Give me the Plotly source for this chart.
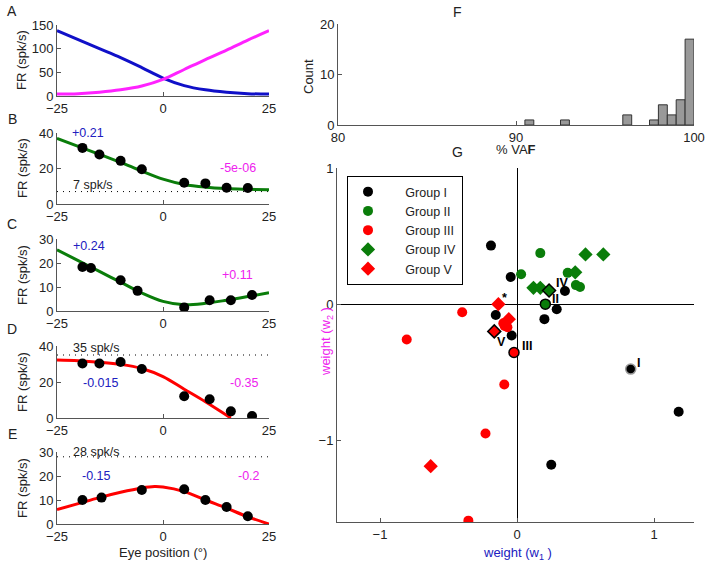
import plotly.graph_objects as go

# ---- panel A: basis tuning curves
a_x = [-25, -20, -15, -10, -5, 0, 5, 10, 15, 20, 25]
a_blue = [138, 119, 100, 81, 60, 38, 22, 13, 8, 5, 4]
a_mag = [4, 5, 8, 13, 21, 35, 56, 77, 97, 118, 138]

# ---- panels B-E: data points and fits
b_px = [-19, -15, -10, -5, 5, 10, 15, 20]
b_py = [31.6, 27.9, 24.3, 19.6, 12.0, 11.6, 9.2, 9.0]
b_fx = [-25, -20, -15, -10, -5, 0, 5, 10, 15, 20, 25]
b_fy = [37, 32.5, 28, 23.5, 18.5, 14, 11, 9.5, 8.7, 8.3, 8]

c_px = [-19, -17, -10, -6, 5, 11, 16, 21]
c_py = [18.3, 17.9, 12.8, 8.4, 1.5, 4.5, 4.5, 6.7]
c_fx = [-25, -20, -15, -10, -5, 0, 5, 10, 15, 20, 25]
c_fy = [25.5, 21, 16.5, 12, 7.5, 4, 2.6, 3.2, 4.5, 6, 7.6]

d_px = [-19, -15, -10, -5, 5, 11, 16, 21]
d_py = [30.3, 30.3, 31.1, 27.2, 12.1, 10.4, 3.7, 1.1]
d_fx = [-25, -20, -15, -10, -5, 0, 5, 10, 15, 16]
d_fy = [32.2, 31.8, 31, 29.8, 27.5, 23, 16, 9, 1.5, 0]

e_px = [-19, -14.5, -5, 5, 10, 15, 20]
e_py = [10.0, 11.0, 14.2, 14.5, 10.0, 7.1, 3.2]
e_fx = [-25, -20, -15, -10, -5, -2, 0, 5, 10, 15, 20, 25]
e_fy = [6, 8.5, 11, 13.2, 15, 15.6, 15.4, 13.5, 10, 6.6, 3, 0]

# ---- panel F: histogram of %VAF
f_bins = [90.75, 92.75, 96.25, 97.75, 98.25, 98.75, 99.25, 99.75]
f_counts = [1, 1, 2, 1, 4, 2, 5, 17]

# ---- panel G: weights
g1_x = [-0.19, -0.046, 0.35, 0.29, 0.20, -0.155, -0.039, 1.18, 0.25]
g1_y = [0.43, 0.20, 0.097, -0.037, -0.11, -0.08, -0.23, -0.79, -1.18]
g2_x = [0.17, 0.03, 0.37, 0.43, 0.46]
g2_y = [0.375, 0.22, 0.23, 0.14, 0.126]
g3_x = [-0.40, -0.805, -0.10, -0.07, -0.09, -0.093, -0.23, -0.355]
g3_y = [-0.06, -0.26, -0.14, -0.17, -0.16, -0.59, -0.95, -1.59]
g4_x = [0.50, 0.63, 0.425, 0.12, 0.17]
g4_y = [0.365, 0.365, 0.234, 0.12, 0.12]
g5_x = [-0.136, -0.06, -0.63]
g5_y = [0.0, -0.11, -1.19]

# example cells marked in G
ex_x = [0.83, 0.207, -0.022, 0.234, -0.166]
ex_y = [-0.477, 0.0, -0.355, 0.10, -0.2]
ex_lab = ["I", "II", "III", "IV", "V"]

GREEN = "#0a7d0a"
RED = "#ff0000"
BLUE = "#2020c0"
MAG = "#ee22ee"
AX = "#555555"
FONT = "Liberation Sans, Arial, sans-serif"

W, H = 708, 565


def px(x):
    return x / W


def py(y):
    return 1 - y / H


fig = go.Figure()

# panel A
fig.add_trace(go.Scatter(x=a_x, y=a_blue, mode="lines", line=dict(color="#1010c8", width=3, shape="spline"),
                         xaxis="x", yaxis="y", showlegend=False))
fig.add_trace(go.Scatter(x=a_x, y=a_mag, mode="lines", line=dict(color="#ff22ff", width=3, shape="spline"),
                         xaxis="x", yaxis="y", showlegend=False))

panels = [
    (b_px, b_py, b_fx, b_fy, GREEN, 7, "2"),
    (c_px, c_py, c_fx, c_fy, GREEN, None, "3"),
    (d_px, d_py, d_fx, d_fy, RED, 35, "4"),
    (e_px, e_py, e_fx, e_fy, RED, 28, "5"),
]
for pxs, pys, fxs, fys, col, base, n in panels:
    if base is not None:
        fig.add_trace(go.Scatter(x=[-25, 25], y=[base, base], mode="lines",
                                 line=dict(color="black", width=1, dash="1px,5px"),
                                 xaxis="x" + n, yaxis="y" + n, showlegend=False))
    fig.add_trace(go.Scatter(x=fxs, y=fys, mode="lines", line=dict(color=col, width=3, shape="spline"),
                             xaxis="x" + n, yaxis="y" + n, showlegend=False))
    fig.add_trace(go.Scatter(x=pxs, y=pys, mode="markers", marker=dict(color="black", size=10),
                             xaxis="x" + n, yaxis="y" + n, showlegend=False))

# panel F
fig.add_trace(go.Bar(x=f_bins, y=f_counts, width=0.5,
                     marker=dict(color="#999999", line=dict(color="#333333", width=1)),
                     xaxis="x6", yaxis="y6", showlegend=False))

# panel G
groups = [
    (g1_x, g1_y, "black", "circle", "Group I"),
    (g2_x, g2_y, GREEN, "circle", "Group II"),
    (g3_x, g3_y, RED, "circle", "Group III"),
    (g4_x, g4_y, GREEN, "diamond", "Group IV"),
    (g5_x, g5_y, RED, "diamond", "Group V"),
]
for gx, gy, col, sym, name in groups:
    fig.add_trace(go.Scatter(x=gx, y=gy, mode="markers", name="\u00a0\u00a0\u00a0\u00a0\u00a0" + name,
                             marker=dict(color=col, symbol=sym, size=10 if sym == "circle" else 11),
                             xaxis="x7", yaxis="y7"))

ex_col = ["black", GREEN, RED, GREEN, RED]
ex_sym = ["circle", "circle", "circle", "diamond", "diamond"]
ex_edge = ["#999999", "black", "black", "black", "black"]
fig.add_trace(go.Scatter(x=ex_x, y=ex_y, mode="markers",
                         marker=dict(color=ex_col, symbol=ex_sym, size=10,
                                     line=dict(color=ex_edge, width=1.5)),
                         xaxis="x7", yaxis="y7", showlegend=False))

xd = [px(57), px(269)]
ydoms = [(25, 96), (133, 204), (239, 311), (346, 418), (452, 524)]
yranges = [[0, 150], [0, 40], [0, 30], [0, 40], [0, 30]]
yticks = [[0, 50, 100, 150], [0, 20, 40], [0, 10, 20, 30], [0, 20, 40], [0, 10, 20, 30]]

axis_style = dict(showline=True, linecolor=AX, linewidth=1, ticks="inside", tickcolor=AX,
                  ticklen=4, showgrid=False, zeroline=False, automargin=False,
                  tickfont=dict(size=13, color="#222"))

layout = dict(
    width=W, height=H, margin=dict(l=0, r=0, t=0, b=0, pad=0, autoexpand=False),
    paper_bgcolor="white", plot_bgcolor="white",
    font=dict(family=FONT, size=12, color="#222"),
    showlegend=True,
    legend=dict(x=px(347), y=py(176), xanchor="left", yanchor="top",
                bordercolor="black", borderwidth=1, bgcolor="white",
                font=dict(size=12.5), tracegroupgap=0),
)
for i in range(5):
    s = "" if i == 0 else str(i + 1)
    layout["xaxis" + s] = dict(domain=xd, range=[-25, 25], tickvals=[-25, 0, 25],
                               anchor="y" + s, **axis_style)
    layout["yaxis" + s] = dict(domain=[py(ydoms[i][1]), py(ydoms[i][0])], range=yranges[i],
                               tickvals=yticks[i], anchor="x" + s, **axis_style)

layout["xaxis6"] = dict(domain=[px(338), px(694)], range=[80, 100], tickvals=[80, 90, 100],
                        anchor="y6", **axis_style)
layout["yaxis6"] = dict(domain=[py(125), py(24)], range=[0, 20], tickvals=[0, 10, 20],
                        anchor="x6", **axis_style)

g_style = dict(axis_style)
g_style["zeroline"] = True
layout["xaxis7"] = dict(domain=[px(337), px(694)], range=[-1.314, 1.292], tickvals=[-1, 0, 1],
                        anchor="y7", zerolinecolor="black", zerolinewidth=1, **g_style)
layout["yaxis7"] = dict(domain=[py(522), py(168)], range=[-1.6, 1.0], tickvals=[-1, 0, 1],
                        anchor="x7", zerolinecolor="black", zerolinewidth=1, **g_style)

ann = []


def paper_text(text, x, y, size=13, color="#222", angle=0):
    ann.append(dict(text=text, x=px(x), y=py(y), xref="paper", yref="paper",
                    xanchor="center", yanchor="middle", textangle=angle,
                    showarrow=False, font=dict(size=size, color=color)))


# panel letters
for letter, (x, y) in zip("ABCDEFG", [(12, 11), (12, 119), (12, 224), (12, 329), (12, 434), (457, 12), (457, 152)]):
    paper_text(letter, x, y, size=14)
# y labels of A-E
for y in [60, 168, 275, 382, 488]:
    paper_text("FR (spk/s)", 22, y, angle=-90)
paper_text("Eye position (°)", 163, 552)

# slope annotations
notes = [
    ("2", -17.8, 39.9, "+0.21", BLUE), ("2", 17.6, 20.4, "-5e-06", MAG), ("2", -16.5, 10.5, "7 spk/s", "#222"),
    ("3", -17.5, 27, "+0.24", BLUE), ("3", 17.5, 15, "+0.11", MAG),
    ("4", -15.6, 39, "35 spk/s", "#222"), ("4", -14.8, 19.5, "-0.015", BLUE), ("4", 19.3, 19.5, "-0.35", MAG),
    ("5", -15.6, 29.8, "28 spk/s", "#222"), ("5", -15.6, 19.8, "-0.15", BLUE), ("5", 20.2, 19.8, "-0.2", MAG),
]
for n, x, y, t, c in notes:
    ann.append(dict(text=t, x=x, y=y, xref="x" + n, yref="y" + n, showarrow=False,
                    xanchor="center", yanchor="middle", font=dict(size=12.5, color=c)))

# panel F labels
paper_text("Count", 308, 77, angle=-90)
paper_text("% VA<b>F</b>", 516, 150)

# panel G labels
paper_text("weight (w<sub>1</sub> )", 517, 553, color="#2020c0")
paper_text("weight (w<sub>2</sub> )", 326, 342, color=MAG, angle=-90)
lab_pos = [(0.89, -0.43), (0.28, 0.035), (0.07, -0.31), (0.33, 0.155), (-0.11, -0.275)]
for (x, y), t in zip(lab_pos, ex_lab):
    ann.append(dict(text="<b>" + t + "</b>", x=x, y=y, xref="x7", yref="y7", showarrow=False,
                    xanchor="center", yanchor="middle", font=dict(size=12.5, color="black")))
ann.append(dict(text="<b>*</b>", x=-0.093, y=0.045, xref="x7", yref="y7", showarrow=False,
                xanchor="center", yanchor="middle", font=dict(size=12.5, color="black")))

layout["annotations"] = ann
fig.update_layout(**layout)

# drop the default 8px page margin so the figure fills the window exactly
fig.write_html("out.html", config={"displayModeBar": False},
               post_script="document.body.style.margin='0';")
